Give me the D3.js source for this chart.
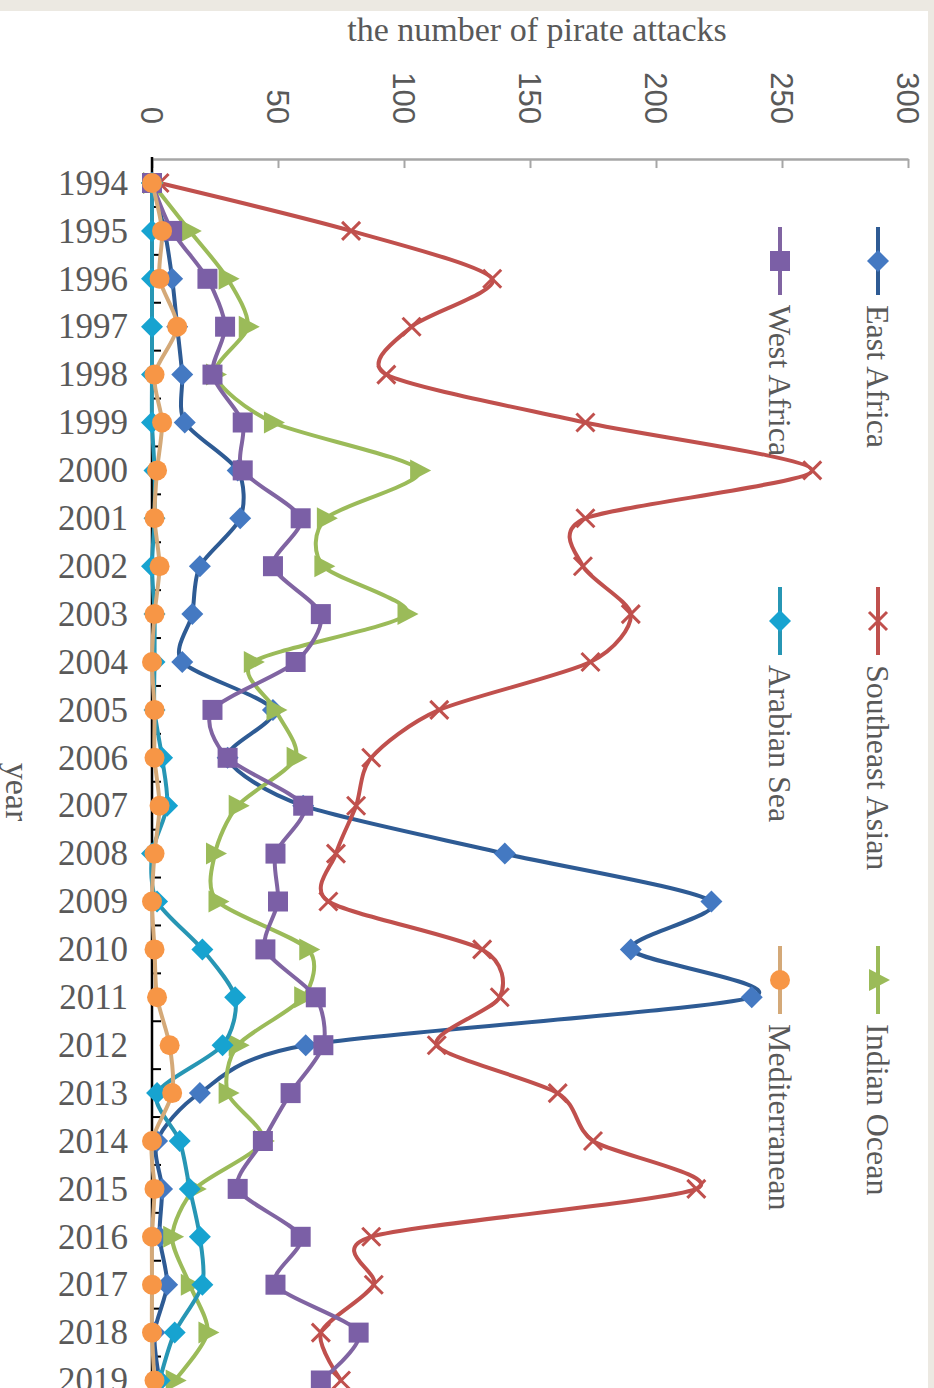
<!DOCTYPE html>
<html>
<head>
<meta charset="utf-8">
<script src="https://cdn.jsdelivr.net/npm/d3@7"></script>
<style>
    html, body { margin: 0; padding: 0; background: #ffffff; }
    svg { display: block; }
</style>
</head>
<body>
<svg width="934" height="1388"></svg>
<script>
//--------------------------DATA------------------------------------------------
var years = [1994, 1995, 1996, 1997, 1998, 1999, 2000, 2001, 2002, 2003, 2004, 2005, 2006,
             2007, 2008, 2009, 2010, 2011, 2012, 2013, 2014, 2015, 2016, 2017, 2018, 2019];
var valueTicks = [0, 50, 100, 150, 200, 250, 300];

var eastAfrica    = [0, 5, 8, 10, 12, 13, 34, 35, 19, 16, 12, 48, 30, 60, 140, 222, 190, 238, 61, 19, 2, 4, 3, 6, 1, 3];
var southeastAsia = [3, 79, 135, 103, 93, 172, 262, 172, 171, 190, 174, 114, 87, 81, 73, 70, 131, 138, 113, 161, 175, 216, 87, 88, 67, 75];
var indianOcean   = [0, 15, 30, 38, 25, 48, 106, 69, 68, 101, 40, 49, 57, 34, 25, 26, 62, 60, 34, 30, 44, 17, 8, 15, 22, 9];
var westAfrica    = [0, 8, 22, 29, 24, 36, 36, 59, 48, 67, 57, 24, 30, 60, 49, 50, 45, 65, 68, 55, 44, 34, 59, 49, 82, 67];
var arabianSea    = [0, 0, 0, 0, 0, 0, 1, 1, 0, 1, 1, 1, 4, 6, 0, 2, 20, 33, 28, 2, 11, 15, 19, 20, 9, 3];
var mediterranean = [0, 4, 3, 10, 1, 4, 2, 1, 3, 1, 0, 1, 1, 3, 1, 0, 1, 2, 7, 8, 0, 1, 0, 0, 0, 1];

var seriesNames = ["East Africa", "Southeast Asian", "Indian Ocean", "West Africa", "Arabian Sea", "Mediterranean"];
var seriesValues = [eastAfrica, southeastAsia, indianOcean, westAfrica, arabianSea, mediterranean];

// styles per series (line colour, marker colour, marker shape)
var styles = [
    { line: "#2e5b94", fill: "#4479c2", shape: "diamond" },
    { line: "#c0504d", fill: "#c0504d", shape: "x" },
    { line: "#9bbb59", fill: "#9bbb59", shape: "triangle" },
    { line: "#8064a2", fill: "#7b5fa6", shape: "square" },
    { line: "#2796b4", fill: "#17a3d0", shape: "diamond" },
    { line: "#d4a978", fill: "#f79646", shape: "circle" }
];

//--------------------------D3--------------------------------------------------
var svg = d3.select("svg");
var serif = "'Liberation Serif', 'Times New Roman', serif";
var sans = "'Liberation Sans', Arial, sans-serif";
var textColor = "#595959";

// frame
svg.append("rect").attr("width", 934).attr("height", 1388).attr("fill", "#ece9e2");
svg.append("rect").attr("x", 0).attr("y", 11).attr("width", 928).attr("height", 1377).attr("fill", "#ffffff");

var x = d3.scaleLinear().domain([0, 300]).range([152, 908]);
var y = d3.scalePoint().domain(years).range([183, 1380.5]);
var step = y.step();
var axisY = y(years[0]) - step / 2;

// value axis (top)
var xAxis = svg.append("g")
    .attr("transform", "translate(0," + axisY + ")")
    .call(d3.axisTop(x).tickValues(valueTicks).tickSizeInner(-9).tickSizeOuter(0));
xAxis.select(".domain").attr("stroke", "#a6a6a6").attr("stroke-width", 2.5);
xAxis.selectAll(".tick line").attr("stroke", "#a6a6a6").attr("stroke-width", 2);
xAxis.selectAll(".tick text")
    .attr("x", 0).attr("y", 0).attr("dy", "0.36em")
    .attr("transform", "translate(0,-35) rotate(90)")
    .attr("text-anchor", "end")
    .style("font-family", sans)
    .style("font-size", "31px")
    .attr("fill", textColor);

// category axis (left)
var yAxis = svg.append("g")
    .attr("transform", "translate(152,0)")
    .call(d3.axisLeft(y).tickSize(0).tickPadding(24));
yAxis.select(".domain").remove();
yAxis.selectAll(".tick text")
    .style("font-family", serif)
    .style("font-size", "35px")
    .attr("fill", textColor);

svg.append("line")
    .attr("x1", 152).attr("x2", 152)
    .attr("y1", axisY - 2).attr("y2", 1388)
    .attr("stroke", "#000").attr("stroke-width", 2.5);

var between = years.map(function(d) { return y(d) + step / 2; });
svg.selectAll(".minor")
    .data(between)
    .enter().append("line")
    .attr("class", "minor")
    .attr("x1", 152).attr("x2", 161)
    .attr("y1", function(d) { return d; })
    .attr("y2", function(d) { return d; })
    .attr("stroke", "#000").attr("stroke-width", 2);

// axis titles
svg.append("text")
    .attr("x", 537).attr("y", 41)
    .attr("text-anchor", "middle")
    .style("font-family", serif).style("font-size", "34px")
    .attr("fill", textColor)
    .text("the number of pirate attacks");

svg.append("text")
    .attr("transform", "translate(16,792) rotate(90)")
    .attr("text-anchor", "middle")
    .attr("dy", "0.3em")
    .style("font-family", serif).style("font-size", "34px")
    .attr("fill", textColor)
    .text("year");

// marker drawing
function drawMarker(sel, shape, fill) {
    if (shape === "diamond") {
        sel.append("path").attr("d", "M0,-11L11,0L0,11L-11,0Z").attr("fill", fill);
    } else if (shape === "square") {
        sel.append("rect").attr("x", -10).attr("y", -10).attr("width", 20).attr("height", 20).attr("fill", fill);
    } else if (shape === "circle") {
        sel.append("circle").attr("r", 10).attr("fill", fill);
    } else if (shape === "triangle") {
        sel.append("path").attr("d", "M12,0L-9,-11L-9,11Z").attr("fill", fill);
    } else if (shape === "x") {
        sel.append("path").attr("d", "M-9,-9L9,9M-9,9L9,-9")
            .attr("stroke", fill).attr("stroke-width", 3).attr("fill", "none");
    }
}

var line = d3.line()
    .x(function(d) { return x(d.v); })
    .y(function(d) { return y(d.year); })
    .curve(d3.curveCardinal.tension(0.2));

var plot = svg.append("g");
for (var s = 0; s < seriesValues.length; s++) {
    var points = years.map(function(yr, i) { return { year: yr, v: seriesValues[s][i] }; });
    var st = styles[s];
    var grp = plot.append("g");
    grp.append("path")
        .datum(points)
        .attr("d", line)
        .attr("fill", "none")
        .attr("stroke", st.line)
        .attr("stroke-width", 4);
    var marks = grp.selectAll(".mark")
        .data(points)
        .enter().append("g")
        .attr("transform", function(d) { return "translate(" + x(d.v) + "," + y(d.year) + ")"; });
    drawMarker(marks, st.shape, st.fill);
}

// legend (rotated like the chart)
var legendCols = [878, 780];
var legendRows = [261, 621, 980];
for (var k = 0; k < seriesNames.length; k++) {
    var col = legendCols[k < 3 ? 0 : 1];
    var row = legendRows[k % 3];
    var lg = svg.append("g").attr("transform", "translate(" + col + "," + row + ")");
    lg.append("line")
        .attr("x1", 0).attr("x2", 0).attr("y1", -34).attr("y2", 34)
        .attr("stroke", styles[k].line).attr("stroke-width", 4);
    drawMarker(lg.append("g"), styles[k].shape, styles[k].fill);
    lg.append("text")
        .attr("transform", "translate(0,44) rotate(90)")
        .attr("dy", "0.33em")
        .style("font-family", serif).style("font-size", "32px")
        .attr("fill", textColor)
        .text(seriesNames[k]);
}
</script>
</body>
</html>
